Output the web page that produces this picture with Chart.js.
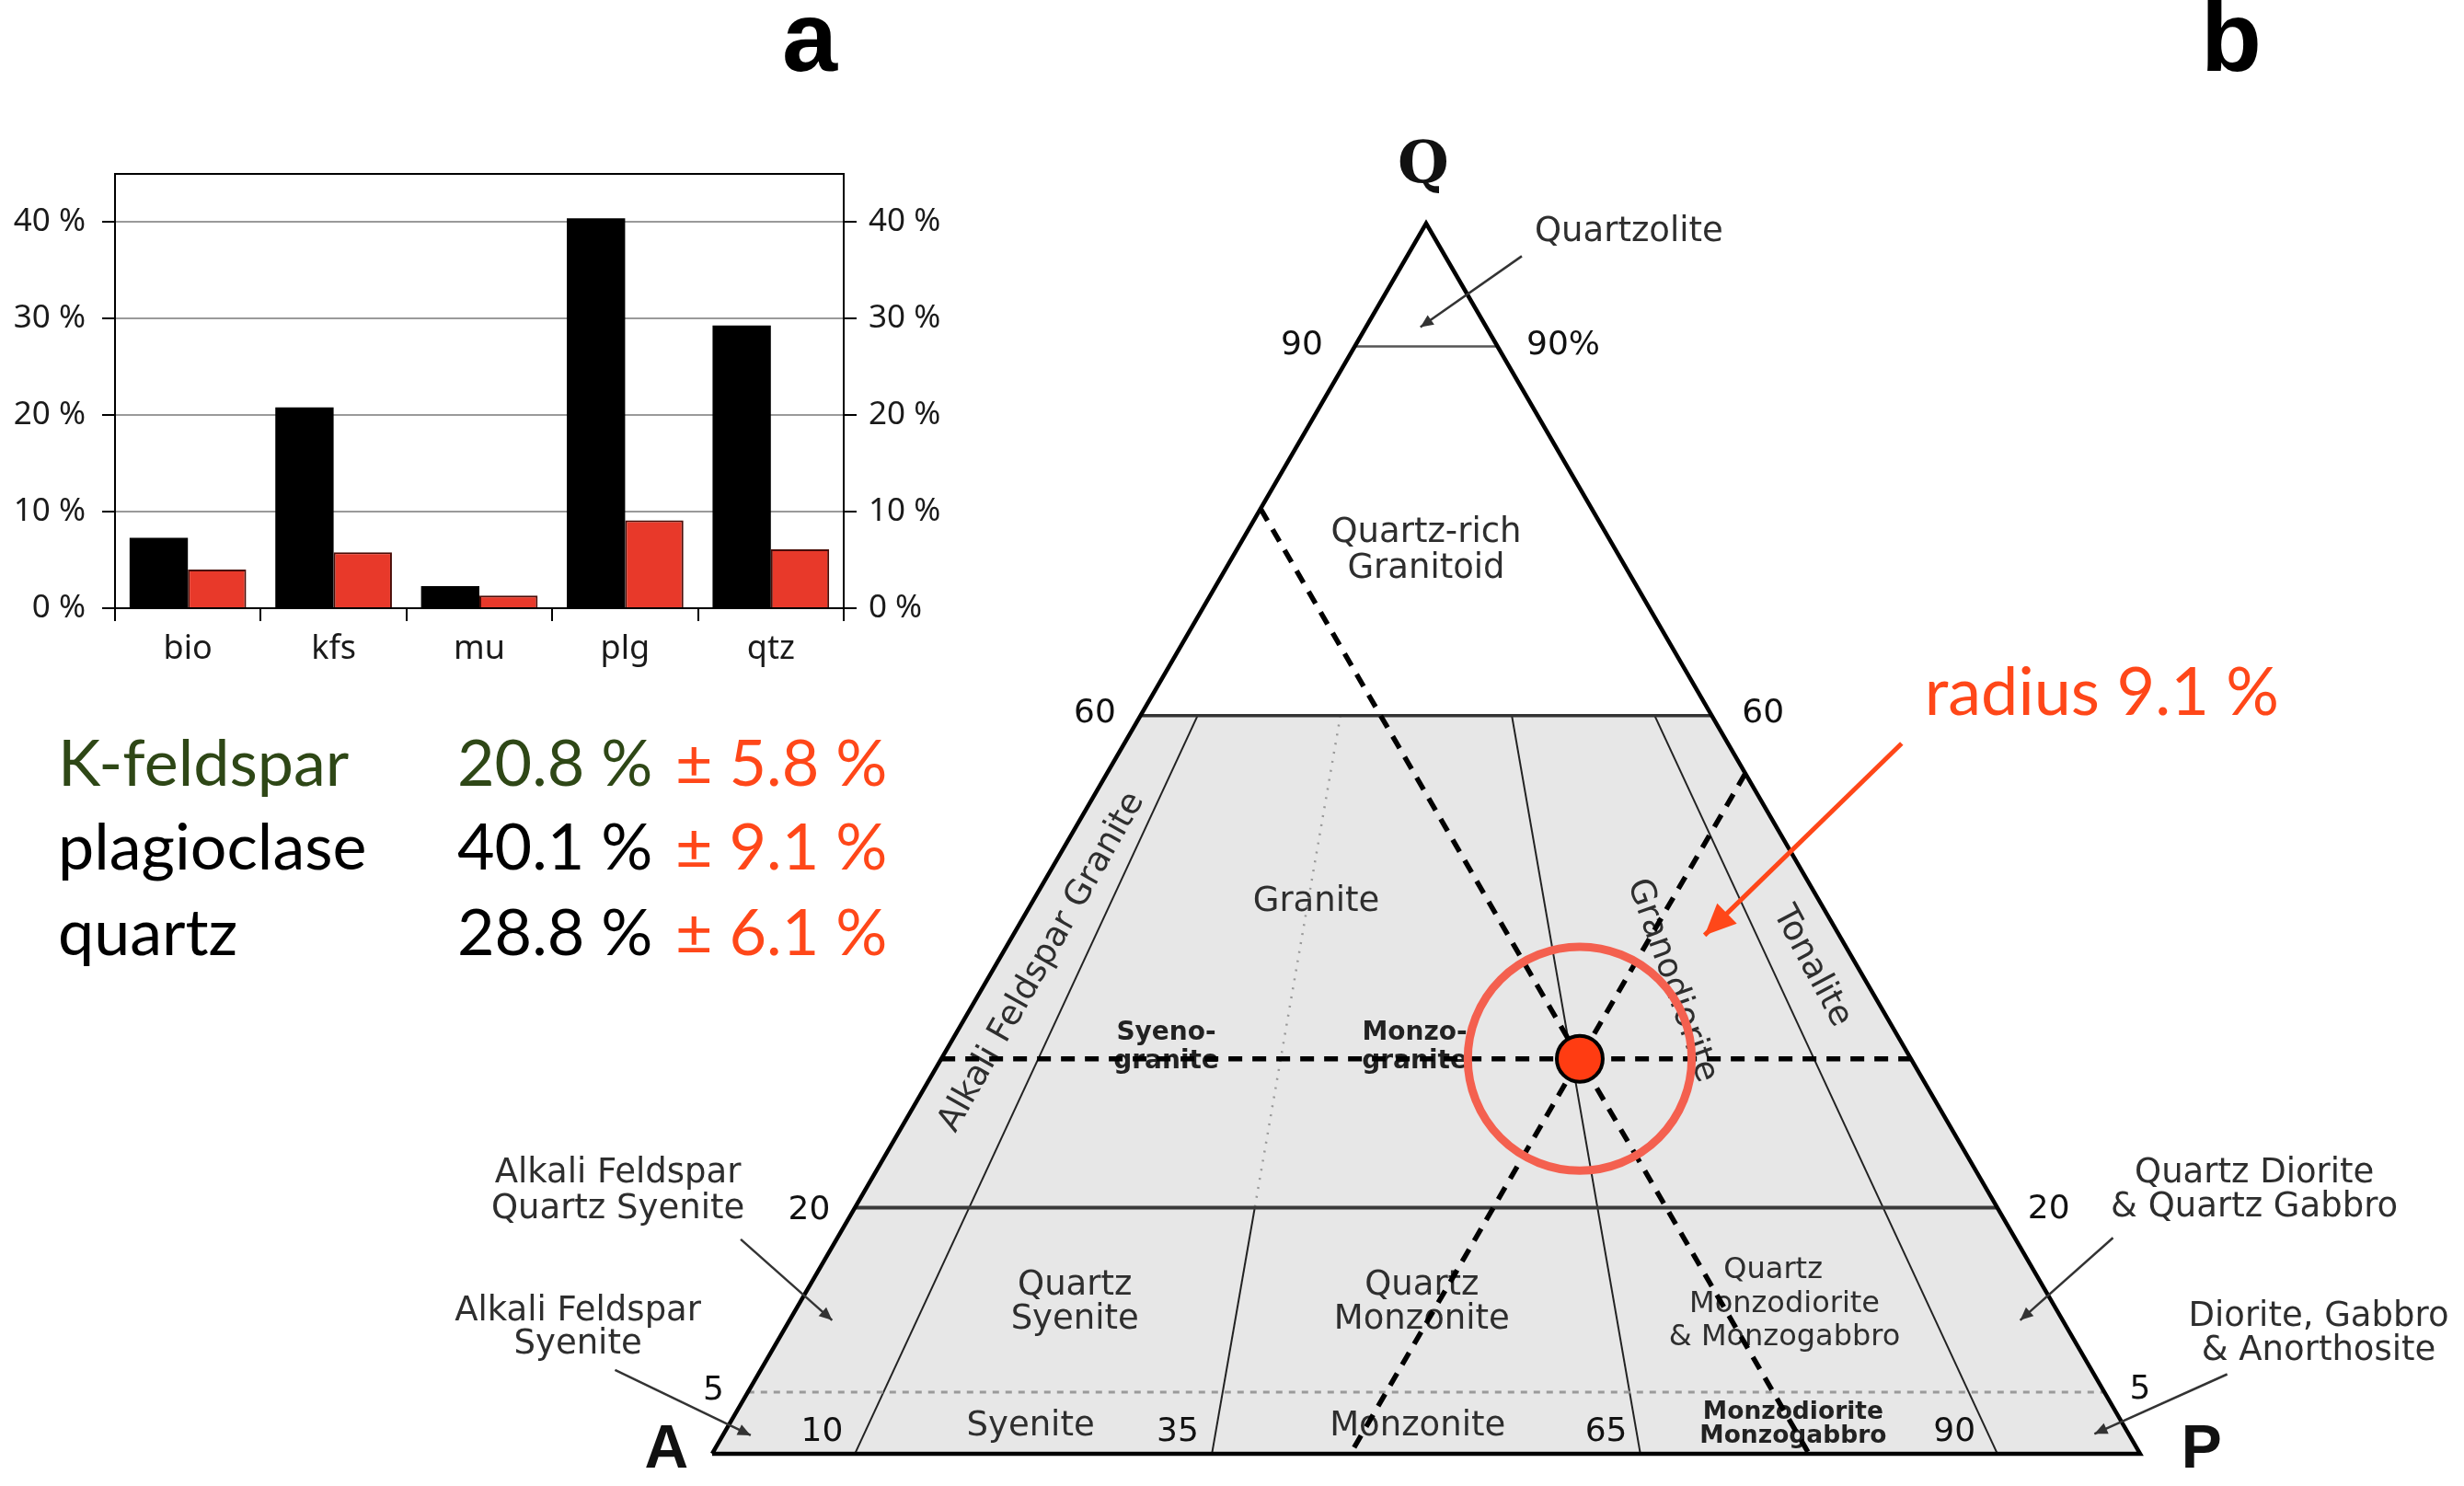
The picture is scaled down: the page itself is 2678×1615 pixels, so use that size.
<!DOCTYPE html>
<html>
<head>
<meta charset="utf-8">
<title>Modal composition and QAP diagram</title>
<script src="https://cdn.jsdelivr.net/npm/chart.js@4.4.1/dist/chart.umd.min.js"></script>
<style>
  html, body { margin: 0; background: #fff; }
  body { position: relative; width: 2678px; height: 1615px; overflow: hidden; }
  canvas { position: absolute; }
  #qap { left: 0; top: 0; }
  #bars { left: 0; top: 150px; }
  .panel { position: absolute; top: -14px; font: bold 108px "Liberation Sans", Arial, sans-serif; line-height: 1; }
  .stat { position: absolute; font-family: Lato, "Noto Sans", sans-serif; font-size: 70px; line-height: 1; white-space: nowrap; }
</style>
</head>
<body>
<div class="panel" style="left:850px">a</div>
<div class="panel" style="left:2392px">b</div>
<canvas id="qap" width="2678" height="1615"></canvas>
<canvas id="bars" width="1060" height="580"></canvas>
<div id="stats"></div>
<script>
// bar chart (panel a)
const minerals = ['bio', 'kfs', 'mu', 'plg', 'qtz'];
const modalPct = [7.3, 20.8, 2.3, 40.4, 29.3];
const errorPct = [4.0, 5.8, 1.3, 9.1, 6.1];
const pctTicks = [0, 10, 20, 30, 40];

// summary used for the QAP point
const statNames = ['K-feldspar', 'plagioclase', 'quartz'];
const statMean = [20.8, 40.1, 28.8];
const statErr = [5.8, 9.1, 6.1];

// QAP field boundaries: Q levels and P/(A+P) ratios, in %
const qLevels = [90, 60, 20, 5];
const rLevels = [10, 35, 65, 90];

// ---- text block under the bars
const statTop = [792, 883, 976];
const stats = document.getElementById('stats');
function addText(txt, left, top, color) {
  const d = document.createElement('div');
  d.className = 'stat';
  d.style.left = left + 'px';
  d.style.top = top + 'px';
  d.style.color = color;
  d.textContent = txt;
  stats.appendChild(d);
}
statNames.forEach((n, i) => {
  const col = i === 0 ? '#2e4716' : '#000';
  addText(n, 63, statTop[i], col);
  addText(statMean[i].toFixed(1) + ' %', 497, statTop[i], col);
  addText('\u00b1 ' + statErr[i].toFixed(1) + ' %', 734, statTop[i], '#ff4719');
});

// ---- bars
const tickFont = { family: '"Noto Sans", sans-serif', size: 35 };
new Chart(document.getElementById('bars'), {
  type: 'bar',
  data: {
    labels: minerals,
    datasets: [
      { data: modalPct, backgroundColor: '#000', borderWidth: 0 },
      { data: errorPct, backgroundColor: '#e8392a', borderColor: '#4a0c06', borderWidth: 2 }
    ]
  },
  options: {
    responsive: false,
    animation: false,
    devicePixelRatio: 1,
    layout: { padding: { top: 38 } },
    plugins: { legend: { display: false }, tooltip: { enabled: false } },
    datasets: { bar: { categoryPercentage: 0.8, barPercentage: 1 } },
    scales: {
      x: {
        grid: { offset: true, drawOnChartArea: false, tickLength: 14, color: '#000', lineWidth: 2 },
        border: { color: '#000', width: 2 },
        ticks: { font: { family: '"Noto Sans", sans-serif', size: 36 }, color: '#1a1a1a', padding: 9 },
        afterFit: s => { s.height = 69; }
      },
      xTop: {
        position: 'top',
        ticks: { display: false },
        grid: { display: false },
        border: { color: '#000', width: 2 },
        afterFit: s => { s.height = 0; }
      },
      y: {
        min: 0, max: 45,
        afterBuildTicks: s => { s.ticks = pctTicks.map(v => ({ value: v })); },
        ticks: { font: tickFont, color: '#1a1a1a', padding: 18, callback: v => v + ' %' },
        grid: { color: c => c.tick && c.tick.value === 0 ? '#000' : '#9a9a9a', lineWidth: 2, tickColor: '#000', tickLength: 14 },
        border: { color: '#000', width: 2 },
        afterFit: s => { s.width = 125; }
      },
      y2: {
        position: 'right',
        min: 0, max: 45,
        afterBuildTicks: s => { s.ticks = pctTicks.map(v => ({ value: v })); },
        ticks: { font: tickFont, color: '#1a1a1a', padding: 13, callback: v => v + ' %' },
        grid: { drawOnChartArea: false, tickColor: '#000', tickLength: 14, lineWidth: 2 },
        border: { color: '#000', width: 2 },
        afterFit: s => { s.width = 143; }
      }
    }
  }
});

// ---- QAP ternary (panel b), A=0, P=100 on x, Q on top
const H = 50 * Math.sqrt(3);
function tpt(q, a, p) {
  const s = q + a + p;
  return { x: 100 * (p + q / 2) / s, y: H * q / s };
}
function onLevel(q, r) {
  return tpt(q, (100 - q) * (100 - r) / 100, (100 - q) * r / 100);
}

const sum = statMean[0] + statMean[1] + statMean[2];
const nA = statMean[0] / sum * 100, nP = statMean[1] / sum * 100, nQ = statMean[2] / sum * 100;
const sample = tpt(nQ, nA, nP);

const ds = [];
function seg(points, style) {
  ds.push(Object.assign({ data: points, showLine: true, pointRadius: 0, borderColor: '#222', borderWidth: 2, fill: false, order: 5 }, style));
}

// grey field below Q=60
seg([onLevel(60, 0), onLevel(60, 100), onLevel(0, 100), onLevel(0, 0), onLevel(60, 0)],
  { fill: 'shape', backgroundColor: '#e7e7e7', borderWidth: 0, order: 50, isField: true });

const levelStyle = {
  90: { borderColor: '#555', borderWidth: 2.5 },
  60: { borderColor: '#333', borderWidth: 3.5 },
  20: { borderColor: '#3a3a3a', borderWidth: 4 },
  5: { borderColor: '#9a9a9a', borderWidth: 3, borderDash: [7, 7] }
};
qLevels.forEach(q => seg([onLevel(q, 0), onLevel(q, 100)], levelStyle[q]));

rLevels.forEach(r => {
  if (r === 35) {
    seg([onLevel(60, r), onLevel(20, r)], { borderColor: '#999', borderWidth: 2.5, borderDash: [2, 8] });
    seg([onLevel(20, r), onLevel(0, r)]);
  } else {
    seg([onLevel(60, r), onLevel(0, r)]);
  }
});

// outline
seg([tpt(0, 100, 0), tpt(0, 0, 100), tpt(100, 0, 0), tpt(0, 100, 0)], { borderColor: '#000', borderWidth: 4.5, order: 4 });

// dashed guides through the sample
const dash = { borderColor: '#000', borderWidth: 5.5, borderDash: [15, 11], order: 3 };
seg([tpt(nQ, 100 - nQ, 0), tpt(nQ, 0, 100 - nQ)], dash);
seg([tpt(100 - nA, nA, 0), tpt(0, nA, 100 - nA)], dash);
seg([tpt(100 - nP, 0, nP), tpt(0, 100 - nP, nP)], dash);

// uncertainty circle (radius in Q percent) and sample point
ds.push({
  data: [sample], order: 2,
  pointRadius: c => {
    const y = c.chart.scales.y;
    return Math.abs(y.getPixelForValue(0) - y.getPixelForValue(H * statErr[1] / 100));
  },
  pointBorderColor: '#f4604f', pointBorderWidth: 9, pointBackgroundColor: 'rgba(0,0,0,0)'
});
ds.push({ data: [sample], order: 1, pointRadius: 25, pointBackgroundColor: '#ff3c12', pointBorderColor: '#000', pointBorderWidth: 4 });

// leader arrows
const arrows = [
  [[56.7, 84.3], [49.6, 79.3], '#333', 2.5, 14],
  [[2.0, 15.1], [8.4, 9.4], '#333', 2.5, 14],
  [[-6.8, 5.9], [2.7, 1.3], '#333', 2.5, 14],
  [[98.1, 15.2], [91.6, 9.4], '#333', 2.5, 14],
  [[106.1, 5.6], [96.8, 1.4], '#333', 2.5, 14],
  [[83.3, 50.0], [69.5, 36.5], '#ff4719', 5, 34]
];
arrows.forEach(a => seg([{ x: a[0][0], y: a[0][1] }, { x: a[1][0], y: a[1][1] }],
  { borderColor: a[2], borderWidth: a[3], head: a[4], order: 0 }));

const labelFonts = {
  vq: ['bold 64px "DejaVu Serif", serif', '#111'],
  vtx: ['bold 66px "Liberation Sans", Arial, sans-serif', '#111'],
  reg: ['37px "DejaVu Sans", sans-serif', '#2e2e2e'],
  mid: ['32px "DejaVu Sans", sans-serif', '#2e2e2e'],
  num: ['36px "DejaVu Sans", sans-serif', '#111'],
  small: ['bold 28px "DejaVu Sans", sans-serif', '#222'],
  tiny: ['bold 26.5px "DejaVu Sans", sans-serif', '#222'],
  red: ['72px Lato, "Noto Sans", sans-serif', '#ff4719']
};
const ternLabels = [
  ['Q', 49.8, 90.5, 'vq'],
  ['A', -3.2, 0.2, 'vtx'],
  ['P', 104.3, 0.2, 'vtx'],
  ['Quartzolite', 64.2, 86.0, 'reg'],
  ['90', 41.3, 78.0, 'num'],
  ['90%', 59.6, 78.0, 'num'],
  ['Quartz-rich', 50.0, 64.8, 'reg'],
  ['Granitoid', 50.0, 62.3, 'reg'],
  ['60', 26.8, 52.1, 'num'],
  ['60', 73.6, 52.1, 'num'],
  ['Granite', 42.3, 38.8, 'reg'],
  ['Alkali Feldspar Granite', 23.1, 34.6, 'reg', -60.5],
  ['Syeno-', 31.8, 29.6, 'small'],
  ['granite', 31.8, 27.6, 'small'],
  ['Monzo-', 49.2, 29.6, 'small'],
  ['granite', 49.2, 27.6, 'small'],
  ['Granodiorite', 67.2, 33.3, 'reg', 70.5],
  ['Tonalite', 77.0, 34.3, 'reg', 62],
  ['20', 6.8, 17.1, 'num'],
  ['20', 93.6, 17.2, 'num'],
  ['Alkali Feldspar', -6.6, 19.7, 'reg'],
  ['Quartz Syenite', -6.6, 17.2, 'reg'],
  ['Alkali Feldspar', -9.4, 10.0, 'reg'],
  ['Syenite', -9.4, 7.7, 'reg'],
  ['Quartz', 25.4, 11.8, 'reg'],
  ['Syenite', 25.4, 9.4, 'reg'],
  ['Quartz', 49.7, 11.8, 'reg'],
  ['Monzonite', 49.7, 9.4, 'reg'],
  ['Quartz', 74.3, 12.9, 'mid'],
  ['Monzodiorite', 75.1, 10.5, 'mid'],
  ['& Monzogabbro', 75.1, 8.2, 'mid'],
  ['Quartz Diorite', 108.0, 19.7, 'reg'],
  ['& Quartz Gabbro', 108.0, 17.3, 'reg'],
  ['Diorite, Gabbro', 112.5, 9.6, 'reg'],
  ['& Anorthosite', 112.5, 7.2, 'reg'],
  ['5', 0.1, 4.4, 'num'],
  ['5', 100.0, 4.5, 'num'],
  ['10', 7.7, 1.5, 'num'],
  ['35', 32.6, 1.5, 'num'],
  ['65', 62.6, 1.5, 'num'],
  ['90', 87.0, 1.5, 'num'],
  ['Syenite', 22.3, 1.9, 'reg'],
  ['Monzonite', 49.4, 1.9, 'reg'],
  ['Monzodiorite', 75.7, 2.9, 'tiny'],
  ['Monzogabbro', 75.7, 1.2, 'tiny']
];
const radiusLabel = ['radius ' + statErr[1].toFixed(1) + ' %', 84.9, 52.0, 'red'];

const qapLabels = {
  id: 'qapLabels',
  afterDatasetDraw(chart, args) {
    if (!chart.data.datasets[args.index].isField) return;
    const { ctx, scales: { x, y } } = chart;
    ctx.save();
    ctx.textAlign = 'center';
    ctx.textBaseline = 'middle';
    ternLabels.forEach(l => {
      const f = labelFonts[l[3]];
      ctx.font = f[0];
      ctx.fillStyle = f[1];
      ctx.save();
      ctx.translate(x.getPixelForValue(l[1]), y.getPixelForValue(l[2]));
      if (l[4]) ctx.rotate(l[4] * Math.PI / 180);
      ctx.fillText(l[0], 0, 0);
      ctx.restore();
    });
    const f = labelFonts[radiusLabel[3]];
    ctx.font = f[0];
    ctx.fillStyle = f[1];
    ctx.textAlign = 'left';
    ctx.textBaseline = 'alphabetic';
    ctx.fillText(radiusLabel[0], x.getPixelForValue(radiusLabel[1]), y.getPixelForValue(radiusLabel[2]));
    ctx.restore();
  },
  afterDatasetsDraw(chart) {
    const { ctx, scales: { x, y } } = chart;
    chart.data.datasets.forEach(d => {
      if (!d.head) return;
      const a = d.data[0], b = d.data[1];
      const x0 = x.getPixelForValue(a.x), y0 = y.getPixelForValue(a.y);
      const x1 = x.getPixelForValue(b.x), y1 = y.getPixelForValue(b.y);
      ctx.save();
      ctx.translate(x1, y1);
      ctx.rotate(Math.atan2(y1 - y0, x1 - x0));
      ctx.beginPath();
      ctx.moveTo(0, 0);
      ctx.lineTo(-d.head, d.head * 0.45);
      ctx.lineTo(-d.head, -d.head * 0.45);
      ctx.closePath();
      ctx.fillStyle = d.borderColor;
      ctx.fill();
      ctx.restore();
    });
  }
};

new Chart(document.getElementById('qap'), {
  type: 'scatter',
  data: { datasets: ds },
  options: {
    responsive: false,
    animation: false,
    devicePixelRatio: 1,
    layout: { padding: 0, autoPadding: false },
    plugins: { legend: { display: false }, tooltip: { enabled: false } },
    elements: { line: { tension: 0 } },
    scales: {
      x: { type: 'linear', display: false, min: -49.87, max: 122.68 },
      y: { type: 'linear', display: false, min: -2.27, max: 102.33 }
    }
  },
  plugins: [qapLabels]
});
</script>
</body>
</html>
